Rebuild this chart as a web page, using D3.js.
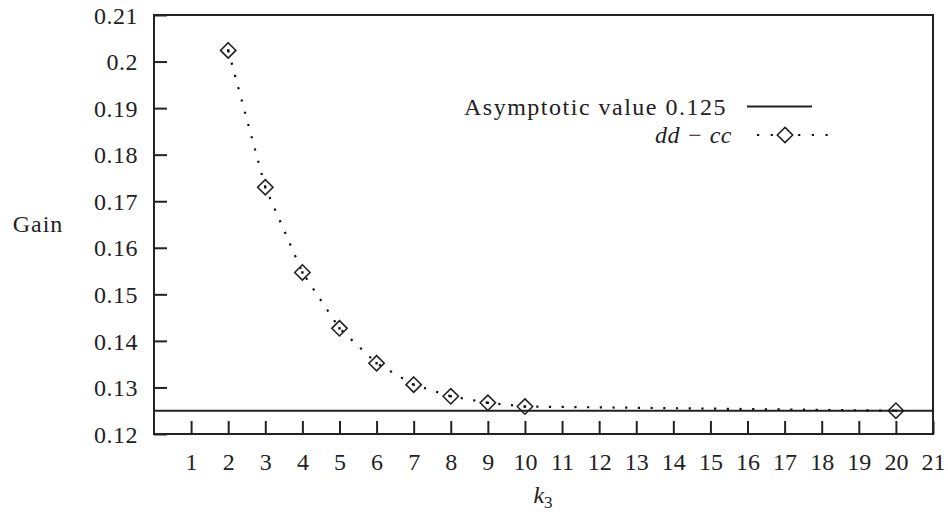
<!DOCTYPE html>
<html><head><meta charset="utf-8">
<script src="https://cdn.jsdelivr.net/npm/d3@7"></script>
<style>body{margin:0;background:#fff}svg{display:block}</style>
</head><body><svg id="c" width="948" height="517"></svg>
<script>
const kValues = [2,3,4,5,6,7,8,9,10,20];
const gainValues = [0.2024,0.1730,0.1547,0.1427,0.1352,0.1306,0.1281,0.1267,0.1259,0.1250];
const asymptote = 0.125;
const xTicks = d3.range(1,22);
const yTicks = [0.12,0.13,0.14,0.15,0.16,0.17,0.18,0.19,0.2,0.21];
const yTickLabels = ["0.12","0.13","0.14","0.15","0.16","0.17","0.18","0.19","0.2","0.21"];
const legendLabels = ["Asymptotic value 0.125","dd − cc"];

const FONT = "'Liberation Serif','Times New Roman',serif";
const FS = 24;
const svg = d3.select("#c");
const L=154,R=933,T=15,B=434;
const x = d3.scaleLinear().domain([0,21]).range([L,R]);
const y = d3.scaleLinear().domain([0.12,0.21]).range([B,T]);
const ink="#222";

const ya = svg.append("g").attr("transform",`translate(${L},0)`)
  .call(d3.axisLeft(y).tickValues(yTicks).tickFormat((d,i)=>yTickLabels[i]).tickSizeInner(-13).tickSizeOuter(0).tickPadding(16));
ya.select(".domain").remove();
ya.selectAll("line").attr("stroke",ink).attr("stroke-width",2);
ya.selectAll("text").attr("font-size",FS).attr("font-family",FONT).attr("fill",ink).attr("dy","0.34em").attr("letter-spacing",0.5);

const xa = svg.append("g").attr("transform",`translate(0,${B})`)
  .call(d3.axisBottom(x).tickValues(xTicks).tickSizeInner(-13).tickSizeOuter(0).tickPadding(19));
xa.select(".domain").remove();
xa.selectAll("line").attr("stroke",ink).attr("stroke-width",2);
xa.selectAll("text").attr("font-size",FS).attr("font-family",FONT).attr("fill",ink).attr("dy","0.71em");

svg.append("rect").attr("x",L).attr("y",T).attr("width",R-L).attr("height",B-T)
  .attr("fill","none").attr("stroke",ink).attr("stroke-width",2);

svg.append("line").attr("x1",L).attr("x2",R).attr("y1",y(asymptote)).attr("y2",y(asymptote))
  .attr("stroke",ink).attr("stroke-width",2);

const line = d3.line().x((d,i)=>x(kValues[i])).y(d=>y(d));
svg.append("path").attr("d",line(gainValues)).attr("fill","none").attr("stroke","#111")
  .attr("stroke-width",2.2).attr("stroke-dasharray","2.2,10.5");

const sym = d3.symbol().type(d3.symbolDiamond2).size(150);
const pts = svg.append("g");
gainValues.forEach((v,i)=>{
  const g = pts.append("g").attr("transform",`translate(${x(kValues[i])},${y(v)})`);
  g.append("path").attr("d",sym()).attr("fill","none").attr("stroke",ink).attr("stroke-width",1.6);
  g.append("rect").attr("x",-1.2).attr("y",-1.2).attr("width",2.4).attr("height",2.4).attr("fill","#111");
});

// legend
svg.append("text").attr("x",727).attr("y",115).attr("text-anchor","end").attr("font-size",FS)
  .attr("font-family",FONT).attr("fill",ink).attr("letter-spacing",1.5).text(legendLabels[0]);
svg.append("line").attr("x1",747).attr("x2",812).attr("y1",106.5).attr("y2",106.5).attr("stroke",ink).attr("stroke-width",2);
svg.append("text").attr("x",732).attr("y",143).attr("text-anchor","end").attr("font-size",FS)
  .attr("font-family",FONT).attr("font-style","italic").attr("fill",ink).attr("letter-spacing",0.5).attr("xml:space","preserve").text("dd \u2212 cc");
svg.append("line").attr("x1",757).attr("x2",828).attr("y1",135).attr("y2",135).attr("stroke","#111").attr("stroke-width",2.2).attr("stroke-dasharray","2.2,11.5");
svg.append("path").attr("transform","translate(785,135)").attr("d",sym()).attr("fill","#fff").attr("stroke",ink).attr("stroke-width",1.6);

// axis titles
svg.append("text").attr("x",38).attr("y",232).attr("text-anchor","middle").attr("font-size",FS)
  .attr("font-family",FONT).attr("fill",ink).attr("letter-spacing",1).text("Gain");
const kt = svg.append("text").attr("x",543).attr("y",503).attr("text-anchor","middle").attr("font-size",FS)
  .attr("font-family",FONT).attr("fill",ink);
kt.append("tspan").attr("font-style","italic").text("k");
kt.append("tspan").attr("font-size",17).attr("dy",5).text("3");
</script></body></html>
